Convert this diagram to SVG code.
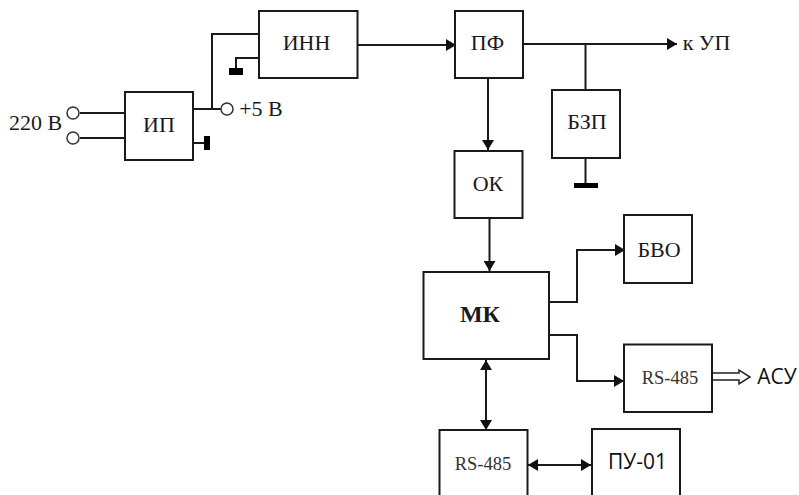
<svg xmlns="http://www.w3.org/2000/svg" width="799" height="495" viewBox="0 0 799 495">
<defs>
<style>
.b{fill:#fff;stroke:#1a1a1a;stroke-width:2}
.c{fill:none;stroke:#1a1a1a;stroke-width:2}
.t{font-family:"Liberation Serif",serif;font-size:22px;fill:#1a1a1a;text-anchor:middle}
.r{font-size:18.500px;fill:#333}
.s{font-family:"Open Sans","Noto Sans",sans-serif;font-size:21px;fill:#111;text-anchor:middle}
.o{fill:#fff;stroke:#333;stroke-width:1.5}
</style>
<marker id="a" markerUnits="userSpaceOnUse" markerWidth="11" markerHeight="12" refX="10" refY="6" orient="auto-start-reverse"><path d="M0 0L10 6L0 12Z" fill="#111"/></marker>
</defs>
<rect width="799" height="495" fill="#fff"/>
<g id="connectors">
<path class="c" d="M193 109H221M212 109V34H259M259 58H236V68"/>
<path class="c" d="M80 113H125M80 138H125M193 143H207"/>
<path class="c" marker-end="url(#a)" d="M357 45H456"/>
<path class="c" marker-end="url(#a)" d="M523 44H677"/>
<path class="c" d="M585.500 44V90M585.500 158V186"/>
<path class="c" marker-end="url(#a)" d="M488 78V150"/>
<path class="c" marker-end="url(#a)" d="M489.500 218V271"/>
<path class="c" marker-end="url(#a)" d="M549 302H577V250H625"/>
<path class="c" marker-end="url(#a)" d="M549 335H577V381H624"/>
<path class="c" marker-start="url(#a)" marker-end="url(#a)" d="M486 360V430"/>
<path class="c" marker-start="url(#a)" marker-end="url(#a)" d="M528 465H591"/>
<path d="M712 373H739V370L750 377L739 384V380H712Z" fill="#fff" stroke="#222" stroke-width="1.500"/>
<path d="M229 68H243V75H229ZM204 136H210V150H204ZM574 183H598V188H574Z" fill="#000"/>
</g>
<g id="terminal-1"><circle class="o" cx="73" cy="113" r="6"/></g>
<g id="terminal-2"><circle class="o" cx="73" cy="138" r="6"/></g>
<g id="terminal-3"><circle class="o" cx="227" cy="109" r="6"/></g>
<g id="label-220"><text class="t" x="35.500" y="130">220 В</text></g>
<g id="label-5v"><text class="t" x="261" y="116">+5 В</text></g>
<g id="label-up"><text class="t" x="706.500" y="50">к УП</text></g>
<g id="ip"><rect class="b" x="125" y="92" width="68" height="68"/><text class="t" x="159" y="132">ИП</text></g>
<g id="inn"><rect class="b" x="259" y="11" width="98.500" height="67"/><text class="t" x="306.500" y="50">ИНН</text></g>
<g id="pf"><rect class="b" x="455" y="11" width="68" height="67"/><text class="t" x="487.500" y="50">ПФ</text></g>
<g id="ok"><rect class="b" x="454.500" y="151" width="68" height="67"/><text class="t" x="488" y="191">ОК</text></g>
<g id="bzp"><rect class="b" x="552" y="90" width="68" height="68"/><text class="t" x="587" y="129">БЗП</text></g>
<g id="bvo"><rect class="b" x="624" y="215" width="68" height="68"/><text class="t" x="659" y="257">БВО</text></g>
<g id="mk"><rect class="b" x="423.500" y="272" width="125.500" height="87"/><text class="t" x="480" y="322" font-weight="bold" style="font-size:24px">МК</text></g>
<g id="rs485-right"><rect class="b" x="624" y="344.500" width="88" height="67.500"/><text class="t r" x="670" y="384">RS-485</text></g>
<g id="rs485-bottom"><rect class="b" x="439.500" y="430" width="88" height="70"/><text class="t r" x="483" y="470">RS-485</text></g>
<g id="pu01"><rect class="b" x="592" y="429" width="88" height="71"/><text class="s" x="637.500" y="469">ПУ-01</text></g>
<g id="label-asu"><text class="s" x="777" y="384">АСУ</text></g>
</svg>
